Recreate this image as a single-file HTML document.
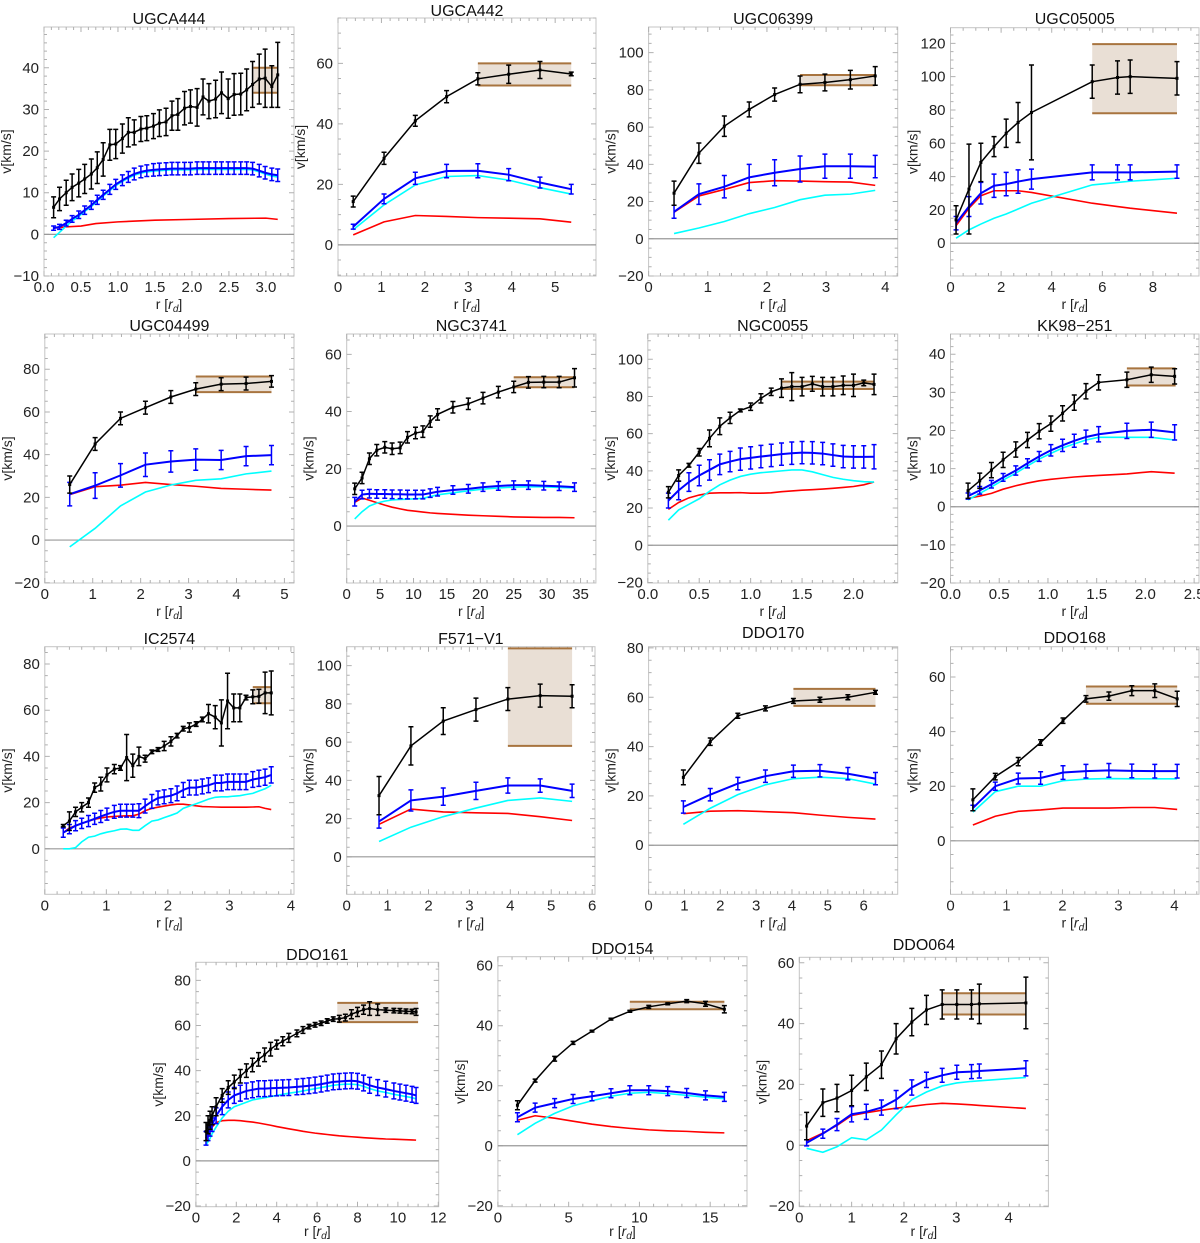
<!DOCTYPE html>
<html><head><meta charset="utf-8"><style>
html,body{margin:0;padding:0;background:#fff;}
svg{display:block;font-family:"Liberation Sans",sans-serif;}
</style></head><body>
<svg id="chart" width="1200" height="1243" viewBox="0 0 1200 1243" xmlns="http://www.w3.org/2000/svg"></svg>
<script>
// ---------- DATA ----------
// UGCA444
const p1_r=[0.13,0.21,0.30,0.38,0.47,0.55,0.64,0.72,0.80,0.89,0.97,1.06,1.14,1.22,1.31,1.39,1.48,1.56,1.65,1.73,1.81,1.90,1.98,2.07,2.15,2.23,2.32,2.40,2.49,2.57,2.66,2.74,2.82,2.91,2.99,3.08,3.16];
const p1_obs=[6.5,8.5,10,11.3,12.3,13.3,14.5,16,18,21.5,21.7,23,24.5,24.5,25.3,25.5,26,26.7,27,28.5,28.8,30.3,30.7,30.5,33,32,32.5,34,32.6,33.6,33.7,34.7,36,37.3,37.5,35.5,38.3];
const p1_eobs=[2.5,2.8,3,3.2,3.3,3.5,3.6,3.8,4,3.7,3.5,3.5,3.5,3,3,3,3,3.2,3.3,3.5,3.8,4,4,4.5,4.3,4.2,4.5,5,4.7,5,5,5,5.5,6,7,5,7.8];
const p1_tot=[1.5,1.8,2.7,3.7,4.7,5.8,7,8.3,9.5,10.8,12,13,13.8,14.5,15,15.3,15.5,15.6,15.7,15.8,15.8,15.8,15.8,15.9,15.9,15.9,15.9,15.9,15.9,15.9,15.9,15.9,15.8,15.3,14.8,14.4,14.2];
const p1_etot=[0.5,0.6,0.7,0.8,0.9,1,1,1.1,1.1,1.2,1.2,1.3,1.3,1.4,1.4,1.4,1.5,1.5,1.5,1.5,1.5,1.5,1.5,1.5,1.5,1.5,1.5,1.5,1.5,1.5,1.5,1.5,1.5,1.5,1.5,1.5,1.5];
const p1_dm=[-0.8,0.5,2,3.2,4.3,5.5,6.7,8,9.2,10.5,11.7,12.7,13.5,14.2,14.7,15,15.2,15.3,15.4,15.5,15.5,15.5,15.5,15.6,15.6,15.6,15.6,15.6,15.6,15.6,15.6,15.6,15.5,15,14.5,14,13.8];
const p1_rb=[0.13,0.3,0.5,0.7,1.0,1.5,2.0,2.5,3.0,3.16];
const p1_bar=[1.5,1.8,2,2.6,3.0,3.4,3.6,3.8,3.9,3.6];
const p1_box=[2.83,3.16,34,40];
// UGCA442
const p2_r=[0.35,1.06,1.78,2.5,3.22,3.93,4.65,5.37];
const p2_obs=[14.3,28.6,41,49,54.9,56.4,57.8,56.5];
const p2_eobs=[1.8,2,1.8,2,2,3,2.8,0.6];
const p2_tot=[6,15.2,22,24.4,24.5,23.2,20.6,18.4];
const p2_etot=[0.8,1.6,2,2.2,2.3,2,1.8,1.6];
const p2_dm=[5,13.2,19.8,22.6,22.9,21.4,18.9,16.8];
const p2_bar=[3.3,7.6,9.7,9.4,9.0,8.8,8.6,7.5];
const p2_box=[3.22,5.37,52.7,60];
// UGC06399
const p3_r=[0.43,0.85,1.28,1.7,2.13,2.56,2.98,3.41,3.83];
const p3_obs=[24.5,46,60.5,69.5,77.5,83,84,85.5,87.5];
const p3_eobs=[6.5,5.5,5.5,4,3.5,4.5,4.5,5,5];
const p3_tot=[14.5,24,28,33,35.5,37.5,39,39,38.8];
const p3_etot=[3.5,5.5,6,7,7,7,6.5,6.5,6];
const p3_dm=[2.8,5.8,9.3,13.5,16.8,21,23.4,24,26];
const p3_bar=[14.3,23,26.5,30.2,31.2,31,30.7,30.5,28.7];
const p3_box=[2.56,3.83,82.5,88];
// UGC05005
const p4_r=[0.22,0.73,1.2,1.72,2.2,2.67,3.2,5.6,6.6,7.1,8.95];
const p4_obs=[14,32.5,48.5,58,66,72.5,78.5,97,99.5,100,99];
const p4_eobs=[8.5,27,11.5,6,8.5,12,28.5,10,10,10,10];
const p4_tot=[12,22,30,34.5,35.5,37,38.5,42.5,42.5,42.5,43];
const p4_etot=[4,6,6.5,7,7,7,6,4.5,4.5,4.5,4];
const p4_dm=[3,8,11.5,15,17.5,20.5,24,35,36.5,37.2,39];
const p4_bar=[10.5,21,28.5,31.5,31.5,31.5,30.5,24,22,21,18];
const p4_box=[5.6,8.95,78,119.5];
// UGC04499
const p5_r=[0.52,1.05,1.58,2.1,2.63,3.15,3.68,4.2,4.73];
const p5_obs=[26,45,57,62,67,70.7,73,73.3,74.3];
const p5_eobs=[4,3,3,3,3,3,3,3,2.7];
const p5_tot=[21.5,25.5,30.3,35.3,36.8,37.7,37.5,39.3,39.8];
const p5_etot=[5.5,6,5.5,5.5,5,5,4.5,4.5,4.5];
const p5_dm=[-3.2,5.5,16,22.5,25.8,28,28.7,31,32.3];
const p5_bar=[21.3,25,25.7,27,26,25.2,24.2,23.8,23.4];
const p5_box=[3.15,4.73,69.3,76.6];
// NGC3741
const p6_r=[1.2,2.3,3.4,4.5,5.7,6.8,8.0,9.1,10.3,11.4,12.5,13.6,15.9,18.2,20.4,22.7,25.0,27.2,29.5,31.8,34.1];
const p6_obs=[13,16.8,23.5,26.5,27.5,27,27.3,31,32.5,33,36.5,39,41.5,42.7,44.7,46.8,48.6,50.2,50.3,50.3,51.8];
const p6_eobs=[2,2,2,2,2,2,2,2,2,2,2,2,2,2,2,2,2,2,2,2,3.2];
const p6_tot=[8.5,11,11.3,11.2,11.2,11.1,11.1,11,11,11,11.5,12,12.6,13,13.6,14,14.3,14.3,14.1,13.9,13.6];
const p6_etot=[1.5,1.5,1.5,1.5,1.5,1.5,1.5,1.5,1.5,1.5,1.5,1.5,1.5,1.5,1.5,1.5,1.5,1.5,1.5,1.5,1.5];
const p6_dm=[2.5,5,7,8,8.7,9.1,9.3,9.4,9.5,9.7,10.3,10.9,11.6,12.3,12.9,13.3,13.6,13.7,13.7,13.5,13.3];
const p6_bar=[8.3,9.8,9,8.2,7.3,6.6,6,5.5,5.2,4.9,4.6,4.4,4.1,3.8,3.6,3.4,3.2,3.1,3.0,3.0,2.9];
const p6_box=[25,34.1,48.5,52];
// NGC0055
const p7_r=[0.2,0.3,0.4,0.5,0.6,0.7,0.8,0.9,1.0,1.1,1.2,1.3,1.4,1.5,1.6,1.7,1.8,1.9,2.0,2.1,2.2];
const p7_obs=[28.5,37.5,43,50,57.5,64,68.5,72.5,74.5,79,82.5,84.5,85.3,85.3,86.8,85.3,85.3,86,86,87.3,86.5];
const p7_eobs=[3,3,1,2,4.5,4.5,3,0.8,2,2.5,2,5,7.5,5,4,5,5,5,6,1.5,5.5];
const p7_tot=[24,29.5,34,37.5,40.5,43.5,45,46.3,47,47.7,48.3,49,49.5,49.8,49.7,49.3,48.5,47.7,47.5,47.5,47.6];
const p7_etot=[4,5,5,5.5,5.5,5.5,5.5,6,6,6,6,6,6,6,6,6,6,6,6,6,6.5];
const p7_dm=[13.5,19,22,25,29,32.5,35,37,38.2,39,39.5,40,40.5,40.5,39.5,38,36.5,35.5,34.7,34.2,34];
const p7_bar=[19.3,23,25.5,27,28,28.2,28.2,28.3,28,28,28.2,28.8,29.2,29.6,29.9,30.2,30.6,31.1,31.6,32.5,34];
const p7_box=[1.3,2.2,84,88];
// KK98-251
const p8_r=[0.18,0.30,0.42,0.54,0.67,0.79,0.91,1.03,1.15,1.27,1.39,1.52,1.81,2.06,2.30];
const p8_obs=[4.2,6.8,9.6,12.3,15,17.5,19.8,21.8,24.5,27.3,30.3,32.6,33.3,34.6,34.2];
const p8_eobs=[2,2,2,2,2,2,2,2,2,2,2,2,2,2,2];
const p8_tot=[2.8,4.3,5.9,7.7,9.5,11.4,13.2,14.8,16.1,17.3,18.3,19,19.9,20.2,19.5];
const p8_etot=[0.8,1,1,1,1.2,1.2,1.3,1.5,1.6,1.7,1.8,2,2,2,2];
const p8_dm=[1.8,3.5,5.2,7.0,8.8,10.7,12.5,14,15.4,16.5,17.5,18.2,18.2,18.2,17.5];
const p8_bar=[2.2,2.8,3.5,4.6,5.5,6.2,6.8,7.2,7.5,7.8,8,8.2,8.6,9.2,8.8];
const p8_box=[1.81,2.31,31.8,36.3];
// IC2574
const p9_r=[0.30,0.40,0.50,0.60,0.71,0.81,0.91,1.01,1.13,1.23,1.33,1.43,1.53,1.63,1.74,1.84,1.94,2.05,2.15,2.25,2.35,2.46,2.56,2.66,2.77,2.87,2.97,3.07,3.17,3.27,3.38,3.48,3.58,3.68];
const p9_obs=[10,12,16,18,20,26.5,28,32,34.5,35,39.5,36,40,39,42,43,44.5,46.5,49,52,52.5,54,56,58.5,57,54.5,64,61,61,65.5,65.8,66,67.5,67.5];
const p9_eobs=[0.5,4,2,2,2,2,3,3,2,1,10,5,4,1.5,0.8,0.8,2,2,1,1,2,1,1,4,5,10,12,6,6,1,3,3,9,9.5];
const p9_tot=[7,8.5,10,11,12,13,14,15,16,16.5,16.5,16.5,16.5,18.5,20.5,22,22.5,23,24,25.5,26.5,26.5,27,27.5,28.5,28.5,29,29,29,29,30,30.5,31,32];
const p9_etot=[2,2,2.2,2.2,2.4,2.4,2.6,2.6,2.8,2.8,2.8,2.8,3,3,3,3,3,3,3.2,3.2,3.2,3.2,3.2,3.2,3.4,3.4,3.4,3.4,3.4,3.4,3.4,3.5,3.5,3.5];
const p9_dm=[0,0,0.5,3,5,5.5,6.5,7.2,7.8,8.5,8.6,8,8,10,12,12.5,13.5,14.5,15.5,17.5,18.5,19.5,20.5,21.5,22.3,22.5,22.5,22.8,23,23.5,24,25,26,27.5];
const p9_bar=[7,9,10,11,12,12.8,13.3,13.8,14,14.2,14.3,14.3,15,16.5,17.5,18,18.5,19,19.3,19.3,19,18.6,18.3,18.2,18.1,18,18,18,18,18,18.1,18.2,17.5,17];
const p9_box=[3.38,3.68,63,70];
// F571-V1
const p10_r=[0.79,1.57,2.36,3.16,3.94,4.73,5.51];
const p10_obs=[32,58,71,77,82.5,84.3,84];
const p10_eobs=[10,10,7,6,6,6,6];
const p10_tot=[18.5,29.5,31.5,34.5,37.3,37.3,34.5];
const p10_etot=[3.5,5.5,4.5,4.5,4,3.5,3.5];
const p10_dm=[8,15.5,21,25.5,29.5,30.8,29];
const p10_bar=[17,25,23.5,23,22.7,21,19];
const p10_box=[3.94,5.51,58,109];
// DDO170
const p11_r=[0.97,1.72,2.49,3.26,4.04,4.78,5.56,6.33];
const p11_obs=[27.5,42,52.5,55.5,58.5,59,60,62];
const p11_eobs=[3,1.5,1,1,1,1,1,0.8];
const p11_tot=[15.5,20.5,25,28,30,30.2,29,27];
const p11_etot=[2.5,2.5,2.5,2.5,2.5,2.5,2.5,2.5];
const p11_dm=[8.5,15,20.5,24.5,27,27.6,27,24.8];
const p11_bar=[12.8,13.8,14,13.6,13.2,12.2,11.3,10.6];
const p11_box=[4.04,6.33,56.5,63.4];
// DDO168
const p12_r=[0.40,0.80,1.21,1.61,2.01,2.42,2.83,3.24,3.65,4.05];
const p12_obs=[15,23.5,29,36,44,52,53,55,55,52];
const p12_eobs=[4,1.2,1.5,1,1,1.2,1.5,1.8,2.5,2.8];
const p12_tot=[12,20,22.8,23,25,25.5,25.8,25.6,25.5,25.5];
const p12_etot=[1,1.5,2,2.3,2.5,2.5,2.5,2.5,2.5,2.5];
const p12_dm=[10.5,18,20,20,22,22.6,22.8,22.7,22.7,22.7];
const p12_bar=[5.8,9,10.8,11.3,12,12,12,12.2,12.2,11.5];
const p12_box=[2.42,4.05,50.2,56.5];
// DDO161
const p13_r=[0.5,0.6,0.7,0.8,1.0,1.3,1.6,1.9,2.2,2.5,2.8,3.1,3.4,3.7,4.0,4.3,4.6,5.0,5.3,5.6,5.9,6.2,6.5,6.8,7.1,7.4,7.7,8.0,8.3,8.6,9.0,9.4,9.8,10.1,10.4,10.7,10.9];
const p13_obs=[13,16,18,20,24,29,32.5,35,37.5,40,42.5,45,47,49.5,51.5,53,54.5,56.5,58,59.5,60.3,61,62,62.8,63,63.5,65,66,67,67.5,67,66.8,66.6,66.5,66.3,66.2,66];
const p13_eobs=[4,4,4,4,4,3,3,3,3,3,3,3,3,3,2,2,2,1.5,1.5,1,1,1,1,1,1.5,1.5,2,2,2,3,2.5,1,1,1,1,1,1.5];
const p13_tot=[10,12,14,16,20,24,27,29,30,31,31.5,32,32,32.2,32.3,32.4,32.5,32.8,33,33.3,33.6,34,34.5,35,35.2,35.4,35.5,35.3,34.5,33.5,32.5,31.8,31,30.5,30,29.5,29];
const p13_etot=[3,3,3,3,3.5,3.5,3.5,3.5,3.5,3.5,3.5,3.5,3.5,3.5,3.5,3.5,3.5,3.5,3.5,3.5,3.5,3.5,3.5,3.5,3.5,3.5,3.5,3.5,3.5,3.5,3.5,3.5,3.5,3.5,3.5,3.5,3.5];
const p13_dm=[7,8.5,10,12,15,19,22,24,25,26,27,27.5,28,28.5,29,29.5,30,30.5,31,31.5,32,32.5,33,33.5,33.8,34,34,33.8,33,32,31,30.3,29.5,29,28.5,28,27.5];
const p13_bar=[9,11,13,15,17,17.8,18,18,17.8,17.5,17.2,16.8,16.3,15.8,15.2,14.7,14.2,13.6,13.1,12.7,12.3,12,11.7,11.4,11.1,10.9,10.7,10.5,10.3,10.1,9.9,9.7,9.6,9.5,9.4,9.3,9.2];
const p13_box=[7.0,11.0,61.5,70];
// DDO154
const p14_r=[1.38,2.63,4.01,5.31,6.65,7.99,9.32,10.66,12.0,13.34,14.67,16.0];
const p14_obs=[13.5,21.7,29,34.3,38.2,42.2,44.8,46.3,47.3,48.2,47.3,45.5];
const p14_eobs=[1.5,0.5,0.8,0.5,0.3,0.3,0.3,0.5,0.3,0.5,0.8,1.2];
const p14_tot=[9.5,12.7,14.2,15.6,16.5,17.5,18.5,18.5,18.2,17.6,16.8,16.3];
const p14_etot=[1.5,1.5,1.5,1.5,1.5,1.5,1.5,1.5,1.5,1.5,1.5,1.5];
const p14_dm=[3.7,7.5,10.8,13.3,15,16.5,17.5,17.8,17.4,16.8,16.2,15.7];
const p14_bar=[8.5,10,9.2,8.2,7.2,6.4,5.8,5.3,5,4.8,4.5,4.3];
const p14_box=[9.32,16.0,45.5,48];
// DDO064
const p15_r=[0.14,0.45,0.72,1.0,1.28,1.57,1.85,2.15,2.43,2.73,3.01,3.29,3.44,4.33];
const p15_obs=[6.3,14,15.5,18,22.5,26.5,35,40.5,44.5,46.3,46.3,46.3,46.5,46.8];
const p15_eobs=[4.5,4.5,4.5,5,4.5,4.5,5,4.5,4.8,4.8,4.8,4.8,6.5,8.5];
const p15_tot=[0.8,3.8,6.8,10.2,11,12.4,15,19,21.5,23,24,24.2,24.4,25.3];
const p15_etot=[1,1.5,2,2.5,2.5,2.5,3,2.5,2.5,2.3,2.3,2.3,2.3,2.5];
const p15_dm=[-1,-2.3,-0.5,2.5,1.8,5,10,15,17.5,19.5,20.5,21,21.2,22.3];
const p15_bar=[1.5,4,6.5,9.8,10.7,11.5,12.2,12.8,13.4,13.8,13.6,13.3,13.1,12.1];
const p15_box=[2.73,4.33,43,50];

// ---------- LAYOUT ----------
const panels=[
 {name:'UGCA444',L:44,R:294,T:27,B:276,x1:3.38,y0:-10,y1:49.8,xs:0.5,xm:0.1,dec:1,ys:10,ym:2,ty:18,r:p1_r,obs:p1_obs,eobs:p1_eobs,tot:p1_tot,etot:p1_etot,dm:p1_dm,rb:p1_rb,bar:p1_bar,box:p1_box},
 {name:'UGCA442',L:338,R:596,T:18,B:276,x1:5.94,y0:-10.3,y1:75,xs:1,xm:0.2,dec:0,ys:20,ym:5,ty:10,r:p2_r,obs:p2_obs,eobs:p2_eobs,tot:p2_tot,etot:p2_etot,dm:p2_dm,bar:p2_bar,box:p2_box},
 {name:'UGC06399',L:648.6,R:897.7,T:27,B:276,x1:4.21,y0:-20,y1:113.8,xs:1,xm:0.2,dec:0,ys:20,ym:5,ty:18,r:p3_r,obs:p3_obs,eobs:p3_eobs,tot:p3_tot,etot:p3_etot,dm:p3_dm,bar:p3_bar,box:p3_box},
 {name:'UGC05005',L:950.5,R:1199,T:27.7,B:276,x1:9.82,y0:-19.7,y1:129.4,xs:2,xm:0.5,dec:0,ys:20,ym:5,ty:18,r:p4_r,obs:p4_obs,eobs:p4_eobs,tot:p4_tot,etot:p4_etot,dm:p4_dm,bar:p4_bar,box:p4_box},
 {name:'UGC04499',L:44.8,R:294,T:334,B:583,x1:5.2,y0:-20.1,y1:96.5,xs:1,xm:0.2,dec:0,ys:20,ym:5,ty:325,r:p5_r,obs:p5_obs,eobs:p5_eobs,tot:p5_tot,etot:p5_etot,dm:p5_dm,bar:p5_bar,box:p5_box},
 {name:'NGC3741',L:346.7,R:595.9,T:334,B:583,x1:37.3,y0:-19.9,y1:67.1,xs:5,xm:1,dec:0,ys:20,ym:5,ty:325,r:p6_r,obs:p6_obs,eobs:p6_eobs,tot:p6_tot,etot:p6_etot,dm:p6_dm,bar:p6_bar,box:p6_box},
 {name:'NGC0055',L:647.8,R:897.7,T:334,B:583,x1:2.43,y0:-20.3,y1:113.6,xs:0.5,xm:0.1,dec:1,ys:20,ym:5,ty:325,r:p7_r,obs:p7_obs,eobs:p7_eobs,tot:p7_tot,etot:p7_etot,dm:p7_dm,bar:p7_bar,box:p7_box},
 {name:'KK98\u2212251',L:950.5,R:1199,T:334,B:583,x1:2.55,y0:-20,y1:45.3,xs:0.5,xm:0.1,dec:1,ys:10,ym:2,ty:325,r:p8_r,obs:p8_obs,eobs:p8_eobs,tot:p8_tot,etot:p8_etot,dm:p8_dm,bar:p8_bar,box:p8_box},
 {name:'IC2574',L:44.8,R:294,T:646.7,B:894.3,x1:4.05,y0:-19.7,y1:87.5,xs:1,xm:0.2,dec:0,ys:20,ym:5,ty:638,r:p9_r,obs:p9_obs,eobs:p9_eobs,tot:p9_tot,etot:p9_etot,dm:p9_dm,bar:p9_bar,box:p9_box},
 {name:'F571\u2212V1',L:346.7,R:595,T:646.7,B:894.3,x1:6.07,y0:-19.6,y1:109.9,xs:1,xm:0.2,dec:0,ys:20,ym:5,ty:638,r:p10_r,obs:p10_obs,eobs:p10_eobs,tot:p10_tot,etot:p10_etot,dm:p10_dm,bar:p10_bar,box:p10_box},
 {name:'DDO170',L:648.6,R:897.7,T:646.7,B:894.3,x1:6.95,y0:-19.9,y1:80.5,xs:1,xm:0.2,dec:0,ys:20,ym:5,ty:632,r:p11_r,obs:p11_obs,eobs:p11_eobs,tot:p11_tot,etot:p11_etot,dm:p11_dm,bar:p11_bar,box:p11_box},
 {name:'DDO168',L:950.5,R:1199,T:646.7,B:894.3,x1:4.44,y0:-19.6,y1:71.1,xs:1,xm:0.2,dec:0,ys:20,ym:5,ty:637,r:p12_r,obs:p12_obs,eobs:p12_eobs,tot:p12_tot,etot:p12_etot,dm:p12_dm,bar:p12_bar,box:p12_box},
 {name:'DDO161',L:195.9,R:438.7,T:962.3,B:1206.7,x1:12.02,y0:-20.3,y1:88,xs:2,xm:0.5,dec:0,ys:20,ym:5,ty:954,r:p13_r,obs:p13_obs,eobs:p13_eobs,tot:p13_tot,etot:p13_etot,dm:p13_dm,bar:p13_bar,box:p13_box},
 {name:'DDO154',L:497.9,R:747,T:956.7,B:1206.7,x1:17.6,y0:-20.3,y1:63,xs:5,xm:1,dec:0,ys:20,ym:5,ty:948,r:p14_r,obs:p14_obs,eobs:p14_eobs,tot:p14_tot,etot:p14_etot,dm:p14_dm,bar:p14_bar,box:p14_box},
 {name:'DDO064',L:799.3,R:1048.4,T:957.3,B:1206.7,x1:4.76,y0:-20.2,y1:61.8,xs:1,xm:0.2,dec:0,ys:20,ym:5,ty:944,r:p15_r,obs:p15_obs,eobs:p15_eobs,tot:p15_tot,etot:p15_etot,dm:p15_dm,bar:p15_bar,box:p15_box}
];

const NS='http://www.w3.org/2000/svg';
const svg=document.getElementById('chart');
function mk(tag,attrs,parent){const e=document.createElementNS(NS,tag);for(const k in attrs)e.setAttribute(k,attrs[k]);parent.appendChild(e);return e;}
function fmt(v,d){const s=Math.abs(v).toFixed(d);return (v<-1e-9?'\u2212':'')+s;}

function drawPanel(P){
  const slug=P.name.toLowerCase().replace(/[^a-z0-9]/g,'');
  const g=mk('g',{},svg);
  
  
  const X=v=>P.L+(v-0)/(P.x1-0)*(P.R-P.L);
  const Y=v=>P.B-(v-P.y0)/(P.y1-P.y0)*(P.B-P.T);
  const fr=mk('rect',{x:P.L,y:P.T,width:P.R-P.L,height:P.B-P.T,fill:'#fff',stroke:'#c4c4c4','stroke-width':1},g);
  
  
  let d='';
  const kx0=Math.ceil(-1e-9/P.xm),kx1=Math.floor(P.x1/P.xm+1e-9);
  for(let k=kx0;k<=kx1;k++){const v=k*P.xm;const major=Math.abs(v/P.xs-Math.round(v/P.xs))<1e-6;const l=major?5:3;const x=X(v);d+=`M${x},${P.B}v${-l}M${x},${P.T}v${l}`;}
  const ky0=Math.ceil(P.y0/P.ym-1e-9),ky1=Math.floor(P.y1/P.ym+1e-9);
  for(let k=ky0;k<=ky1;k++){const v=k*P.ym;const major=Math.abs(v/P.ys-Math.round(v/P.ys))<1e-6;const l=major?5:3;const y=Y(v);d+=`M${P.L},${y}h${l}M${P.R},${y}h${-l}`;}
  const tk=mk('path',{d:d,stroke:'#b0b0b0','stroke-width':1,fill:'none'},g);
  
  
  const xk1=Math.floor(P.x1/P.xs+1e-9);
  for(let k=0;k<=xk1;k++){const v=k*P.xs;
    const t=mk('text',{x:X(v),y:P.B+16,'font-size':15,'text-anchor':'middle',fill:'#222'},g);t.textContent=fmt(v,P.dec);
    
    }
  const yk0=Math.ceil(P.y0/P.ys-1e-9),yk1=Math.floor(P.y1/P.ys+1e-9);
  for(let k=yk0;k<=yk1;k++){const v=k*P.ys;
    const t=mk('text',{x:P.L-5,y:Y(v)+5,'font-size':15,'text-anchor':'end',fill:'#222'},g);t.textContent=fmt(v,0);
    
    }
  const z=mk('line',{x1:P.L,x2:P.R,y1:Y(0),y2:Y(0),stroke:'#999','stroke-width':1.2},g);
  
  
  const b=P.box;
  const br=mk('rect',{x:X(b[0]),y:Y(b[3]),width:X(b[1])-X(b[0]),height:Y(b[2])-Y(b[3]),fill:'#e9dfd5'},g);
  
  
  const bl=mk('path',{d:`M${X(b[0])},${Y(b[3])}H${X(b[1])}M${X(b[0])},${Y(b[2])}H${X(b[1])}`,stroke:'#a8743f','stroke-width':2,fill:'none'},g);
  
  
  const pts=(xs,ys)=>xs.map((x,i)=>X(x).toFixed(2)+','+Y(ys[i]).toFixed(2)).join(' ');
  const rb=P.rb||P.r;
  const lb=mk('polyline',{points:pts(rb,P.bar),fill:'none',stroke:'#ff0000','stroke-width':1.6},g);
  
  
  const ld=mk('polyline',{points:pts(P.r,P.dm),fill:'none',stroke:'#00ffff','stroke-width':1.6},g);
  
  
  function errs(vals,es,color,name,cap){
    let dd='';
    P.r.forEach((x,i)=>{const px=X(x),a=Y(vals[i]+es[i]),c=Y(vals[i]-es[i]);dd+=`M${px},${a}V${c}M${px-cap},${a}h${2*cap}M${px-cap},${c}h${2*cap}`;});
    const e=mk('path',{d:dd,stroke:color,'stroke-width':1.5,fill:'none'},g);
    
    
  }
  errs(P.tot,P.etot,'#0000ff','total-model-errorbars',2.5);
  const lt=mk('polyline',{points:pts(P.r,P.tot),fill:'none',stroke:'#0000ff','stroke-width':2},g);
  
  
  errs(P.obs,P.eobs,'#000','observed-errorbars',2.5);
  const lo=mk('polyline',{points:pts(P.r,P.obs),fill:'none',stroke:'#000','stroke-width':1.5},g);
  
  
  P.r.forEach((x,i)=>{
    const c=mk('rect',{x:X(x)-1.5,y:Y(P.obs[i])-1.5,width:3,height:3,fill:'#000'},g);
    
    
  });
  const tt=mk('text',{x:(P.L+P.R)/2,y:P.ty+6,'font-size':16,'text-anchor':'middle',fill:'#111'},g);
  tt.textContent=P.name;
  
  
  const xt=mk('text',{x:(P.L+P.R)/2,y:Math.min(P.B+33,1236),'font-size':14,'text-anchor':'middle',fill:'#222'},g);
  xt.innerHTML='r [<tspan font-style="italic">r</tspan><tspan font-style="italic" font-size="10" dy="3">d</tspan><tspan dy="-3">]</tspan>';
  
  
  const yc=(P.T+P.B)/2, yx=P.L-33;
  const yt=mk('text',{x:yx,y:yc,'font-size':14,'text-anchor':'middle',fill:'#222',transform:`rotate(-90 ${yx} ${yc})`},g);
  yt.textContent='v[km/s]';
  
  
}
panels.forEach(drawPanel);
</script>
</body></html>
